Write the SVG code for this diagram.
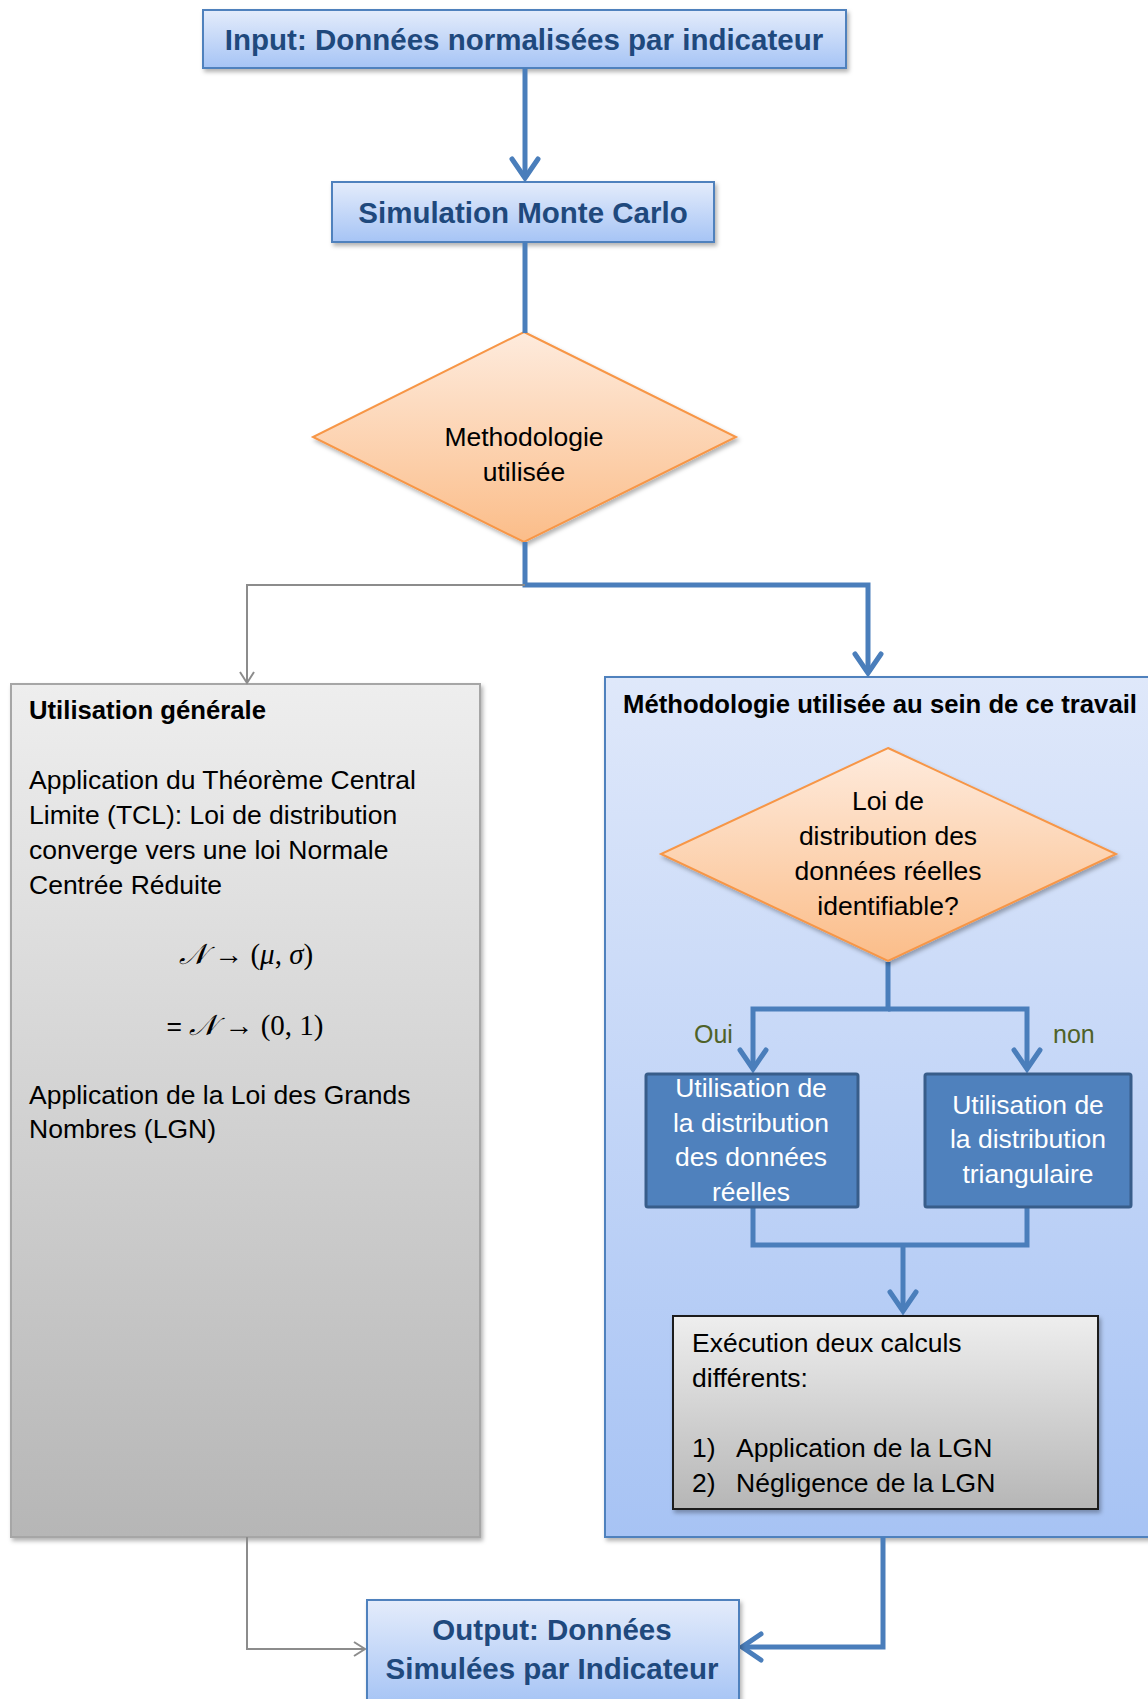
<svg xmlns="http://www.w3.org/2000/svg" width="1148" height="1699" viewBox="0 0 1148 1699">
<defs>
<linearGradient id="gBlue" x1="0" y1="0" x2="0" y2="1"><stop offset="0" stop-color="#E4ECFB"/><stop offset="1" stop-color="#A6C4F5"/></linearGradient>
<linearGradient id="gPanel" x1="0" y1="0" x2="0" y2="1"><stop offset="0" stop-color="#DFE8FA"/><stop offset="1" stop-color="#A7C3F4"/></linearGradient>
<linearGradient id="gGrey" x1="0" y1="0" x2="0" y2="1"><stop offset="0" stop-color="#EEEEEE"/><stop offset="1" stop-color="#B6B6B6"/></linearGradient>
<linearGradient id="gOrange" x1="0" y1="0" x2="0" y2="1"><stop offset="0" stop-color="#FEEBDD"/><stop offset="1" stop-color="#FBBD89"/></linearGradient>
<filter id="sh" x="-10%" y="-10%" width="120%" height="130%"><feDropShadow dx="2" dy="3" stdDeviation="2" flood-color="#000" flood-opacity="0.3"/></filter>
<marker id="aBlue" markerUnits="userSpaceOnUse" viewBox="-24 -16 28 32" refX="0" refY="0" markerWidth="28" markerHeight="32" orient="auto" overflow="visible">
<path d="M -19 -13 L 0 0 L -19 13" fill="none" stroke="#4A7EBB" stroke-width="5" stroke-linecap="round" stroke-linejoin="miter"/>
</marker>
<marker id="aGrey" markerUnits="userSpaceOnUse" viewBox="-14 -10 16 20" refX="0" refY="0" markerWidth="16" markerHeight="20" orient="auto" overflow="visible">
<path d="M -11 -7 L 0 0 L -11 7" fill="none" stroke="#8C8C8C" stroke-width="2"/>
</marker>
</defs>
<style>
.t{font-family:"Liberation Sans",Arial,sans-serif;font-size:26.5px;fill:#000}
.title{font-family:"Liberation Sans",Arial,sans-serif;font-weight:bold;font-size:29.5px;fill:#1F497D}
.hdr{font-family:"Liberation Sans",Arial,sans-serif;font-weight:bold;font-size:25.7px;fill:#000}
.w{fill:#FFFFFF}
.c{text-anchor:middle}
.lbl{font-family:"Liberation Sans",Arial,sans-serif;font-size:25px;fill:#4F6228}
.m{font-family:"Liberation Serif","DejaVu Serif",serif;font-size:29px;fill:#000}
.i{font-style:italic}
.blue{fill:none;stroke:#4A7EBB;stroke-width:5}
.grey{fill:none;stroke:#8C8C8C;stroke-width:2}
</style>

<g id="input">
<rect x="203" y="10" width="643" height="58" fill="url(#gBlue)" stroke="#4F81BD" stroke-width="2" filter="url(#sh)"/>
<text class="title c" x="524" y="50">Input: Données normalisées par indicateur</text>
</g>

<g id="simulation">
<rect x="332" y="182" width="382" height="60" fill="url(#gBlue)" stroke="#4F81BD" stroke-width="2" filter="url(#sh)"/>
<text class="title c" x="523" y="223">Simulation Monte Carlo</text>
</g>

<g id="decision1">
<polygon points="524,332 736,437 524,542 313,437" fill="url(#gOrange)" stroke="#F79646" stroke-width="2" filter="url(#sh)"/>
<text class="t c" x="524" y="446">Methodologie</text>
<text class="t c" x="524" y="481">utilisée</text>
</g>

<g id="general">
<rect x="11" y="684" width="469" height="853" fill="url(#gGrey)" stroke="#A6A6A6" stroke-width="2" filter="url(#sh)"/>
<text class="hdr" x="29" y="719">Utilisation générale</text>
<text class="t" x="29" y="789">Application du Théorème Central</text>
<text class="t" x="29" y="824">Limite (TCL): Loi de distribution</text>
<text class="t" x="29" y="859">converge vers une loi Normale</text>
<text class="t" x="29" y="894">Centrée Réduite</text>
<text class="m c" x="246" y="964"><tspan class="i">𝒩</tspan> → (<tspan class="i">μ</tspan>, <tspan class="i">σ</tspan>)</text>
<text class="m c" x="245" y="1035"><tspan font-family="Liberation Sans" font-size="26.5">=</tspan> <tspan class="i">𝒩</tspan> → (0, 1)</text>
<text class="t" x="29" y="1104">Application de la Loi des Grands</text>
<text class="t" x="29" y="1138">Nombres (LGN)</text>
</g>

<g id="methodology">
<rect x="605" y="677" width="560" height="860" fill="url(#gPanel)" stroke="#4F81BD" stroke-width="2" filter="url(#sh)"/>
<text class="hdr c" x="880" y="713">Méthodologie utilisée au sein de ce travail</text>
</g>

<g id="connectors">
<path class="blue" d="M 525 68 V 178" marker-end="url(#aBlue)"/>
<path class="blue" d="M 525 242 V 333"/>
<path class="blue" d="M 525 542 V 585 H 868 V 673" marker-end="url(#aBlue)"/>
<path class="grey" d="M 525 585 H 247 V 683" marker-end="url(#aGrey)"/>
<path class="blue" d="M 888 962 V 1009 H 753 V 1069" marker-end="url(#aBlue)"/>
<path class="blue" d="M 888 1009 H 1027 V 1069" marker-end="url(#aBlue)"/>
<path class="blue" d="M 753 1208 V 1245 H 1027 V 1208"/>
<path class="blue" d="M 903 1245 V 1311" marker-end="url(#aBlue)"/>
<path class="blue" d="M 883 1537 V 1647 H 742" marker-end="url(#aBlue)"/>
<path class="grey" d="M 247 1537 V 1649 H 365" marker-end="url(#aGrey)"/>
</g>

<g id="decision2">
<polygon points="888,748 1116,854 888,961 661,854" fill="url(#gOrange)" stroke="#F79646" stroke-width="2" filter="url(#sh)"/>
<text class="t c" x="888" y="810">Loi de</text>
<text class="t c" x="888" y="845">distribution des</text>
<text class="t c" x="888" y="880">données réelles</text>
<text class="t c" x="888" y="915">identifiable?</text>
</g>

<g id="labels">
<text class="lbl" x="694" y="1043">Oui</text>
<text class="lbl" x="1053" y="1043">non</text>
</g>

<g id="real">
<rect x="646" y="1074" width="212" height="133" rx="2" fill="#4F81BD" stroke="#385D8A" stroke-width="3"/>
<text class="t w c" x="751" y="1097">Utilisation de</text>
<text class="t w c" x="751" y="1132">la distribution</text>
<text class="t w c" x="751" y="1166">des données</text>
<text class="t w c" x="751" y="1201">réelles</text>
</g>

<g id="triangular">
<rect x="925" y="1074" width="206" height="133" rx="2" fill="#4F81BD" stroke="#385D8A" stroke-width="3"/>
<text class="t w c" x="1028" y="1114">Utilisation de</text>
<text class="t w c" x="1028" y="1148">la distribution</text>
<text class="t w c" x="1028" y="1183">triangulaire</text>
</g>

<g id="execution">
<rect x="673" y="1316" width="425" height="193" fill="url(#gGrey)" stroke="#1A1A1A" stroke-width="2" filter="url(#sh)"/>
<text class="t" x="692" y="1352">Exécution deux calculs</text>
<text class="t" x="692" y="1387">différents:</text>
<text class="t" x="692" y="1457">1)</text>
<text class="t" x="736" y="1457">Application de la LGN</text>
<text class="t" x="692" y="1492">2)</text>
<text class="t" x="736" y="1492">Négligence de la LGN</text>
</g>

<g id="output">
<rect x="367" y="1600" width="372" height="104" fill="url(#gBlue)" stroke="#4F81BD" stroke-width="2" filter="url(#sh)"/>
<text class="title c" x="552" y="1640">Output: Données</text>
<text class="title c" x="552" y="1679">Simulées par Indicateur</text>
</g>
</svg>
